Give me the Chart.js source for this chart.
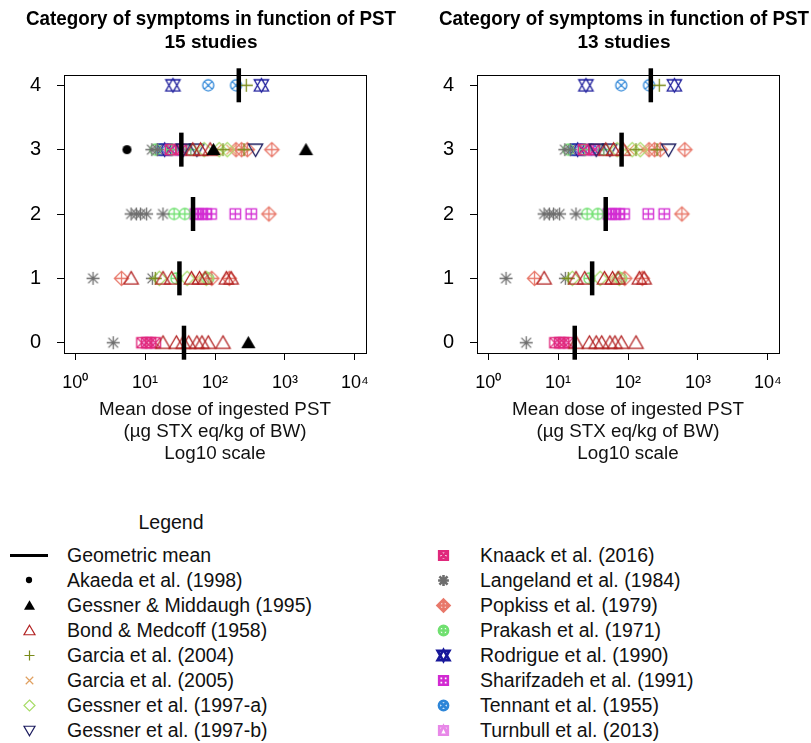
<!DOCTYPE html>
<html>
<head>
<meta charset="utf-8">
<script src="https://cdn.jsdelivr.net/npm/chart.js@4.4.0/dist/chart.umd.min.js"></script>
<style>
  body { margin: 0; background: #fff; width: 811px; height: 743px; position: relative; overflow: hidden;
         font-family: "Liberation Sans", Arial, sans-serif; color: #111; }
  #left { position: absolute; left: 0; top: 0; }
  #right { position: absolute; left: 405px; top: 0; }
  .lg { position: absolute; font-size: 19.5px; line-height: 24px; white-space: nowrap; }
  .ic { position: absolute; }
</style>
</head>
<body>
<canvas id="left" width="405" height="480"></canvas>
<canvas id="right" width="406" height="480"></canvas>
<div id="legend"></div>
<script>
// symptom categories (y) and dose ticks (x, log10)
const categories = [0, 1, 2, 3, 4];
const xTickValues = [1, 10, 100, 1000, 10000];
const xTickLabels = ['10⁰', '10¹', '10²', '10³', '10⁴'];

// [dose in µg STX eq/kg BW, category] per study
const akaeda = [[5.5, 3]];
const gessnerMiddaugh = [[300, 0], [95, 3], [2000, 3]];
const bondMedcoff = [[18, 0], [28, 0], [35, 0], [42, 0], [55, 0], [65, 0], [80, 0], [130, 0],
  [6.3, 1], [18, 1], [24, 1], [46, 1], [60, 1], [72, 1], [145, 1], [170, 1],
  [48, 3], [62, 3], [85, 3]];
const garcia2004 = [[14, 1], [130, 3], [260, 3], [280, 4]];
const garcia2005 = [[55, 1], [105, 3], [170, 3]];
const gessner1997a = [[16, 1], [40, 1], [75, 1], [70, 3], [115, 3], [150, 3]];
const gessner1997b = [[35, 3], [55, 3], [380, 3]];
const knaack = [[9, 0], [10.5, 0], [12, 0], [14, 0], [23, 3], [33, 3]];
const langeland = [[3.5, 0], [1.8, 1], [12.7, 1], [6.3, 2], [7.5, 2], [8.6, 2], [10.5, 2], [18, 2], [12.5, 3], [15, 3]];
const popkiss = [[4.6, 1], [90, 1], [160, 1], [590, 2], [200, 3], [240, 3], [290, 3], [650, 3]];
const prakash = [[28, 1], [80, 1], [26, 2], [37, 2], [14, 3], [24, 3], [45, 3]];
const rodrigue = [[19, 3], [25, 4], [460, 4]];
const sharifzadeh = [[52, 2], [58, 2], [66, 2], [75, 2], [88, 2], [195, 2], [330, 2], [25, 3], [38, 3]];
const tennant = [[17, 3], [30, 3], [80, 4], [200, 4]];
const turnbull = [[11, 0], [21, 3], [27, 3]];

// geometric mean per category (0..4)
const meanLeft = [36, 31, 48.5, 33, 219];
const meanRight = [17.3, 30.7, 48, 81, 212];

const studies = [
  { label: 'Akaeda et al. (1998)', data: akaeda, shape: 'dot', color: '#000000', all: true },
  { label: 'Gessner & Middaugh (1995)', data: gessnerMiddaugh, shape: 'triFill', color: '#000000', all: true },
  { label: 'Bond & Medcoff (1958)', data: bondMedcoff, shape: 'tri', color: '#B22222' },
  { label: 'Garcia et al. (2004)', data: garcia2004, shape: 'plus', color: '#7A8B1A' },
  { label: 'Garcia et al. (2005)', data: garcia2005, shape: 'cross', color: '#E0A060' },
  { label: 'Gessner et al. (1997-a)', data: gessner1997a, shape: 'diamond', color: '#A8DC68' },
  { label: 'Gessner et al. (1997-b)', data: gessner1997b, shape: 'triDown', color: '#1B1B5E' },
  { label: 'Knaack et al. (2016)', data: knaack, shape: 'squareX', color: '#E0287C' },
  { label: 'Langeland et al. (1984)', data: langeland, shape: 'asterisk', color: '#6E6E6E' },
  { label: 'Popkiss et al. (1979)', data: popkiss, shape: 'diamondPlus', color: '#E8786A' },
  { label: 'Prakash et al. (1971)', data: prakash, shape: 'circlePlus', color: '#70E070' },
  { label: 'Rodrigue et al. (1990)', data: rodrigue, shape: 'david', color: '#18189A' },
  { label: 'Sharifzadeh et al. (1991)', data: sharifzadeh, shape: 'squarePlus', color: '#D22AD2' },
  { label: 'Tennant et al. (1955)', data: tennant, shape: 'circleX', color: '#2E86D8' },
  { label: 'Turnbull et al. (2013)', data: turnbull, shape: 'squareTri', color: '#E888E8' }
];

const SANS = '"Liberation Sans", Arial, sans-serif';

// draws R-like pch symbols into a small canvas, used as pointStyle
function makeIcon(shape, color, r, lw) {
  const size = Math.ceil(2.4 * r + 2 * lw + 2);
  const c = document.createElement('canvas');
  c.width = c.height = size;
  const g = c.getContext('2d');
  const m = size / 2;
  g.strokeStyle = color;
  g.fillStyle = color;
  g.lineWidth = lw;
  const line = (x1, y1, x2, y2) => { g.moveTo(m + x1 * r, m + y1 * r); g.lineTo(m + x2 * r, m + y2 * r); };
  const poly = (pts) => {
    g.moveTo(m + pts[0][0] * r, m + pts[0][1] * r);
    for (let i = 1; i < pts.length; i++) g.lineTo(m + pts[i][0] * r, m + pts[i][1] * r);
    g.closePath();
  };
  const circ = (k) => { g.moveTo(m + k * r, m); g.arc(m, m, k * r, 0, Math.PI * 2); };
  const up = [[0, -1.05], [1.1, 0.85], [-1.1, 0.85]];
  const down = [[0, 1.05], [1.1, -0.85], [-1.1, -0.85]];
  const sq = [[-0.8, -0.8], [0.8, -0.8], [0.8, 0.8], [-0.8, 0.8]];
  const dia = [[0, -1.1], [1.1, 0], [0, 1.1], [-1.1, 0]];
  g.beginPath();
  switch (shape) {
    case 'dot': circ(0.7); g.fill(); return c;
    case 'triFill': poly(up); g.fill(); return c;
    case 'tri': poly(up); break;
    case 'plus': line(-1, 0, 1, 0); line(0, -1, 0, 1); break;
    case 'cross': line(-0.75, -0.75, 0.75, 0.75); line(-0.75, 0.75, 0.75, -0.75); break;
    case 'diamond': poly(dia); break;
    case 'triDown': poly(down); break;
    case 'squareX': poly(sq); line(-0.8, -0.8, 0.8, 0.8); line(-0.8, 0.8, 0.8, -0.8); break;
    case 'asterisk': line(-1, 0, 1, 0); line(0, -1, 0, 1); line(-0.75, -0.75, 0.75, 0.75); line(-0.75, 0.75, 0.75, -0.75); break;
    case 'diamondPlus': poly(dia); line(-1.1, 0, 1.1, 0); line(0, -1.1, 0, 1.1); break;
    case 'circlePlus': circ(0.85); line(-0.85, 0, 0.85, 0); line(0, -0.85, 0, 0.85); break;
    case 'david': poly(up); poly(down); break;
    case 'squarePlus': poly(sq); line(-0.8, 0, 0.8, 0); line(0, -0.8, 0, 0.8); break;
    case 'circleX': circ(0.85); line(-0.6, -0.6, 0.6, 0.6); line(-0.6, 0.6, 0.6, -0.6); break;
    case 'squareTri': poly(sq); g.moveTo(m - 0.8 * r, m + 0.8 * r); g.lineTo(m, m - 0.8 * r); g.lineTo(m + 0.8 * r, m + 0.8 * r); break;
  }
  g.stroke();
  return c;
}

// full box round the plot region, like R's box()
const boxPlugin = {
  id: 'box',
  afterDraw(chart) {
    const { ctx, chartArea: a } = chart;
    ctx.save();
    ctx.strokeStyle = '#000';
    ctx.lineWidth = 1;
    ctx.strokeRect(Math.round(a.left) + 0.5, Math.round(a.top) + 0.5, Math.round(a.right - a.left), Math.round(a.bottom - a.top));
    ctx.restore();
  }
};

// two-line title over the plot region; narrow look via maxWidth squeeze
const panelTitle = {
  id: 'panelTitle',
  afterDraw(chart, args, opts) {
    const { ctx, chartArea: a } = chart;
    const cx = (a.left + a.right) / 2 - 4;
    ctx.save();
    ctx.fillStyle = '#000';
    ctx.textAlign = 'center';
    ctx.textBaseline = 'middle';
    ctx.font = 'bold 21px ' + SANS;
    ctx.fillText(opts.lines[0], cx, 19, 370);
    ctx.font = 'bold 19px ' + SANS;
    ctx.fillText(opts.lines[1], cx, 43, 97);
    ctx.restore();
  }
};

function buildChart(canvasId, subset, means, subtitle, boxLeft, padRight, tickPad) {
  const datasets = [{
    label: 'Geometric mean',
    data: categories.map((c, i) => ({ x: means[i], y: c })),
    pointStyle: 'line', pointRotation: 90, pointRadius: 17,
    pointBorderWidth: 4.5, pointBorderColor: '#000', pointBackgroundColor: '#000',
    order: 0, clip: false
  }];
  subset.forEach(s => datasets.push({
    label: s.label,
    data: s.data.map(([x, y]) => ({ x, y })),
    pointStyle: makeIcon(s.shape, s.color, 6.5, 1.3),
    pointRadius: 6, order: 1, clip: false
  }));

  return new Chart(document.getElementById(canvasId), {
    type: 'scatter',
    data: { datasets },
    options: {
      responsive: false,
      animation: false,
      events: [],
      layout: { padding: { left: 0, right: padRight, top: 75, bottom: 0 } },
      plugins: {
        legend: { display: false },
        tooltip: { enabled: false },
        title: { display: false },
        panelTitle: { lines: ['Category of symptoms in function of PST', subtitle] }
      },
      scales: {
        x: {
          type: 'logarithmic',
          min: Math.pow(10, -0.16), max: Math.pow(10, 4.16),
          afterBuildTicks: s => { s.ticks = xTickValues.map(v => ({ value: v })); },
          afterFit: s => { s.height = 127; },
          ticks: {
            autoSkip: false, maxRotation: 0, padding: 12, color: '#000',
            font: { family: SANS, size: 18 },
            callback: v => xTickLabels[xTickValues.indexOf(v)] || ''
          },
          grid: { drawOnChartArea: false, tickLength: 7, color: '#000' },
          border: { display: false },
          title: {
            display: true, color: '#111',
            text: ['Mean dose of ingested PST', '(µg STX eq/kg of BW)', 'Log10 scale'],
            font: { family: SANS, size: 18.8, lineHeight: 22 / 18.8 },
            padding: { top: 0, bottom: 15 }
          }
        },
        y: {
          min: -0.16, max: 4.16,
          afterBuildTicks: s => { s.ticks = categories.map(v => ({ value: v })); },
          afterFit: s => { s.width = boxLeft; },
          ticks: { padding: tickPad, color: '#000', font: { family: SANS, size: 20 }, callback: v => String(v) },
          grid: { drawOnChartArea: false, tickLength: 7, color: '#000' },
          border: { display: false }
        }
      }
    },
    plugins: [boxPlugin, panelTitle]
  });
}

buildChart('left', studies, meanLeft, '15 studies', 64, 39, 16);
buildChart('right', studies.filter(s => !s.all), meanRight, '13 studies', 72, 32, 16);

// legend below the panels
const legendEl = document.getElementById('legend');
function addText(text, x, y, center) {
  const d = document.createElement('div');
  d.className = 'lg';
  d.textContent = text;
  d.style.top = (y - 12) + 'px';
  if (center) { d.style.left = (x - 100) + 'px'; d.style.width = '200px'; d.style.textAlign = 'center'; }
  else d.style.left = x + 'px';
  legendEl.appendChild(d);
}
function addIcon(icon, x, y) {
  icon.className = 'ic';
  icon.style.left = (x - icon.width / 2) + 'px';
  icon.style.top = (y - icon.height / 2) + 'px';
  legendEl.appendChild(icon);
}

addText('Legend', 171, 522, true);
const meanLine = document.createElement('div');
meanLine.style.cssText = 'position:absolute;left:10px;top:554px;width:38px;height:3px;background:#000;';
legendEl.appendChild(meanLine);
addText('Geometric mean', 67, 555);
studies.forEach((s, i) => {
  if (i < 7) {
    const y = 580 + i * 25;
    addIcon(makeIcon(s.shape, s.color, s.shape === 'dot' ? 4.5 : 5, 1.2), 29, y);
    addText(s.label, 67, y);
  } else {
    const y = 555 + (i - 7) * 25;
    addIcon(makeIcon(s.shape, s.color, 5.4, 2.6), 443, y);
    addText(s.label, 480, y);
  }
});
</script>
</body>
</html>
